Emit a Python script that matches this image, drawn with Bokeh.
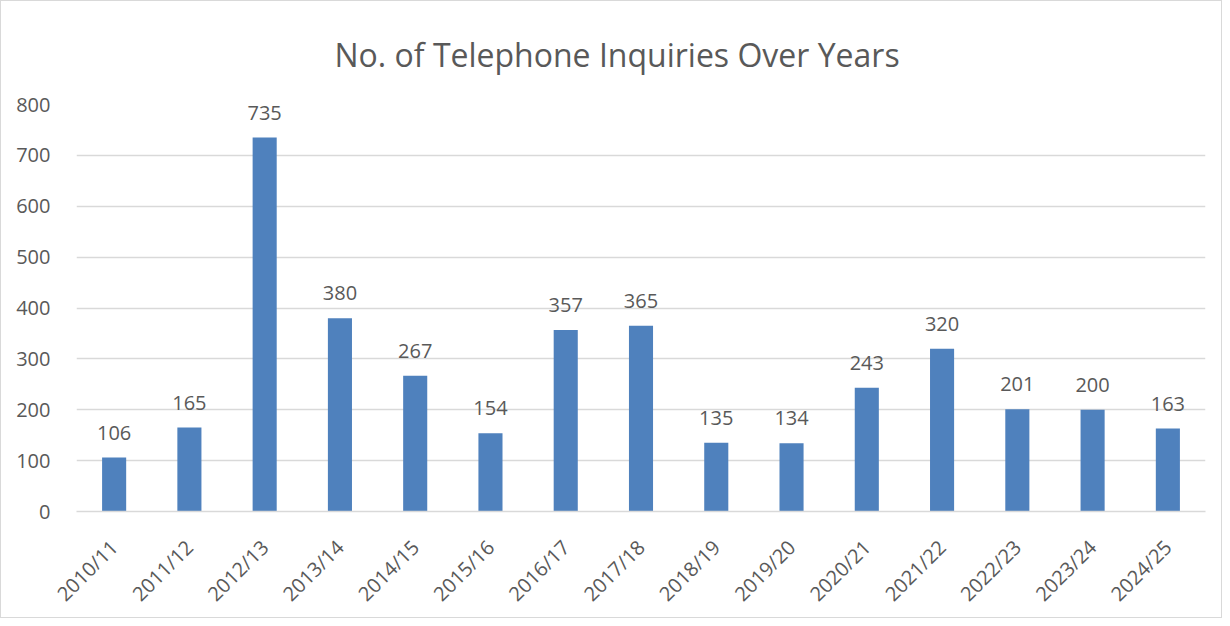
import math
from bokeh.plotting import figure
from bokeh.models import ColumnDataSource, LabelSet
from bokeh.core.properties import value
from bokeh.embed import file_html
from bokeh.resources import INLINE

years = ["2010/11", "2011/12", "2012/13", "2013/14", "2014/15", "2015/16", "2016/17",
         "2017/18", "2018/19", "2019/20", "2020/21", "2021/22", "2022/23", "2023/24", "2024/25"]
inquiries = [106, 165, 735, 380, 267, 154, 357, 365, 135, 134, 243, 320, 201, 200, 163]
y_ticks = [0, 100, 200, 300, 400, 500, 600, 700, 800]

FONT = "Open Sans"
TXT = "#595959"
GRID = "#D9D9D9"
BAR = "#4F81BD"

src = ColumnDataSource(dict(x=years, y=inquiries, label=[str(v) for v in inquiries]))

p = figure(x_range=years, y_range=(0, 800), width=1222, height=618,
           output_backend="svg", toolbar_location=None,
           title="No. of Telephone Inquiries Over Years")
p.styles = {"border": "1px solid #D9D9D9"}
p.min_border_left = 75
p.min_border_right = 18
p.min_border_top = 103
p.min_border_bottom = 107
p.outline_line_color = None
p.background_fill_color = "white"
p.border_fill_color = "white"

p.title.align = "left"
p.title.offset = 258
p.title.text_font = FONT
p.title.text_font_size = "32px"
p.title.text_font_style = "normal"
p.title.text_color = TXT
p.title.standoff = 57

p.vbar(x="x", top="y", width=0.32, source=src, fill_color=BAR, line_color=None)

labels = LabelSet(x="x", y="y", text="label", source=src, text_align="center",
                  text_baseline="bottom", y_offset=18, text_font=value(FONT),
                  text_font_size="20px", text_color=TXT)
p.add_layout(labels)

p.x_range.range_padding = 0
p.xgrid.grid_line_color = None
p.ygrid.grid_line_color = GRID
p.ygrid.grid_line_width = 1.5
p.yaxis.ticker = y_ticks
p.yaxis.axis_line_color = None
p.yaxis.major_tick_line_color = None
p.yaxis.minor_tick_line_color = None
p.yaxis.major_label_text_font = FONT
p.yaxis.major_label_text_font_size = "20px"
p.yaxis.major_label_text_color = TXT
p.yaxis.major_label_standoff = 20

p.xaxis.axis_line_color = GRID
p.xaxis.axis_line_width = 1.5
p.xaxis.major_tick_line_color = None
p.xaxis.minor_tick_line_color = None
p.xaxis.major_label_orientation = math.pi / 4
p.xaxis.major_label_text_font = FONT
p.xaxis.major_label_text_font_size = "20px"
p.xaxis.major_label_text_color = TXT
p.xaxis.major_label_standoff = 26

open("out.html", "w").write(file_html(p, INLINE))
